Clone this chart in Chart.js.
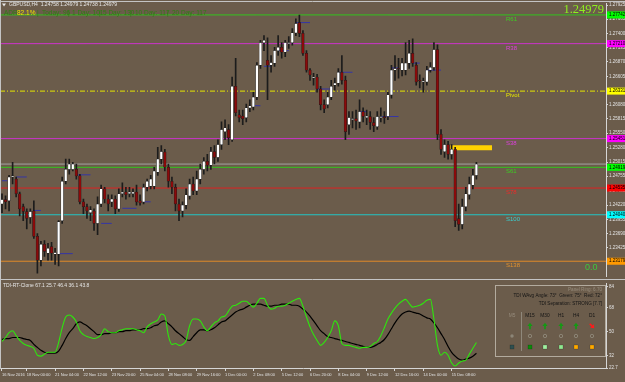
<!DOCTYPE html>
<html>
<head>
<meta charset="utf-8">
<script src="https://cdn.jsdelivr.net/npm/chart.js@4.4.0/dist/chart.umd.min.js"></script>
<style>
html, body { margin: 0; padding: 0; background: #6b5c4b; }
#wrap { width: 625px; height: 382px; position: relative; overflow: hidden; background: #6b5c4b; }
#main { position: absolute; left: 0; top: 0; }
#tdi { position: absolute; left: 0; top: 280px; }
</style>
</head>
<body>
<div id="wrap">
  <canvas id="main" width="625" height="280"></canvas>
  <canvas id="tdi" width="625" height="102"></canvas>
</div>
<script>
// GBPUSD H4 candles
const opens = [
  1.2424,1.2432,1.2430,1.2474,1.2470,1.2443,1.2419,1.2410,1.2399,1.2411,
  1.2364,1.2320,1.2349,1.2333,1.2345,1.2331,1.2331,1.2393,1.2466,1.2488,
  1.2488,1.2488,1.2476,1.2428,1.2419,1.2408,1.2411,1.2388,1.2424,1.2452,
  1.2433,1.2428,1.2433,1.2415,1.2443,1.2446,1.2443,1.2443,1.2446,1.2430,
  1.2428,1.2455,1.2457,1.2457,1.2483,1.2507,1.2520,1.2492,1.2466,1.2455,
  1.2424,1.2411,1.2422,1.2439,1.2461,1.2448,1.2470,1.2488,1.2503,1.2496,
  1.2521,1.2510,1.2534,1.2558,1.2562,
  1.2543,1.2642,1.2589,1.2587,1.2584,1.2602,1.2604,1.2622,1.2681,1.2723,
  1.2690,1.2681,1.2685,1.2708,1.2714,1.2705,1.2721,1.2723,1.2741,1.2760,
  1.2740,1.2703,1.2672,1.2657,1.2659,1.2637,1.2608,1.2608,1.2622,1.2644,
  1.2648,1.2668,1.2653,1.2571,1.2580,1.2582,1.2576,1.2595,1.2584,1.2586,
  1.2575,1.2567,1.2584,1.2586,1.2586,1.2626,1.2672,1.2675,1.2672,1.2672,
  1.2685,1.2703,1.2681,1.2653,1.2650,1.2650,1.2672,1.2677,1.2710,1.2553,
  1.2521,1.2534,1.2516,1.2525,1.2397,1.2386,1.2419,1.2441,1.2459,1.2477
];
const highs = [
  1.2443,1.2439,1.2477,1.2501,1.2474,1.2446,1.2424,1.2415,1.2415,1.2430,
  1.2369,1.2355,1.2356,1.2351,1.2353,1.2342,1.2393,1.2474,1.2507,1.2507,
  1.2501,1.2498,1.2479,1.2433,1.2424,1.2419,1.2415,1.2437,1.2459,1.2455,
  1.2441,1.2441,1.2439,1.2452,1.2463,1.2455,1.2455,1.2452,1.2459,1.2441,
  1.2461,1.2470,1.2477,1.2492,1.2529,1.2532,1.2525,1.2498,1.2474,1.2461,
  1.2433,1.2428,1.2452,1.2470,1.2474,1.2485,1.2498,1.2510,1.2516,1.2529,
  1.2532,1.2543,1.2576,1.2580,1.2571,
  1.2659,1.2694,1.2598,1.2598,1.2609,1.2617,1.2631,1.2686,1.2727,1.2736,
  1.2732,1.2699,1.2714,1.2736,1.2723,1.2727,1.2734,1.2749,1.2767,1.2774,
  1.2745,1.2708,1.2675,1.2666,1.2664,1.2642,1.2617,1.2631,1.2653,1.2657,
  1.2675,1.2699,1.2661,1.2595,1.2595,1.2598,1.2617,1.2602,1.2598,1.2595,
  1.2584,1.2595,1.2602,1.2595,1.2631,1.2681,1.2699,1.2694,1.2694,1.2723,
  1.2727,1.2730,1.2686,1.2663,1.2657,1.2679,1.2686,1.2723,1.2719,1.2562,
  1.2543,1.2540,1.2534,1.2529,1.2424,1.2433,1.2455,1.2474,1.2488,1.2501
];
const lows = [
  1.2408,1.2415,1.2411,1.2461,1.2437,1.2402,1.2393,1.2378,1.2388,1.2360,
  1.2296,1.2309,1.2327,1.2320,1.2320,1.2312,1.2309,1.2388,1.2461,1.2479,
  1.2485,1.2470,1.2424,1.2406,1.2397,1.2393,1.2375,1.2367,1.2419,1.2426,
  1.2411,1.2419,1.2406,1.2410,1.2437,1.2433,1.2437,1.2437,1.2422,1.2422,
  1.2424,1.2448,1.2452,1.2452,1.2477,1.2498,1.2485,1.2455,1.2443,1.2411,
  1.2393,1.2400,1.2415,1.2433,1.2441,1.2441,1.2461,1.2479,1.2485,1.2488,
  1.2498,1.2503,1.2525,1.2543,1.2534,
  1.2540,1.2587,1.2576,1.2571,1.2576,1.2595,1.2598,1.2617,1.2675,1.2708,
  1.2617,1.2668,1.2679,1.2699,1.2694,1.2697,1.2712,1.2718,1.2736,1.2734,
  1.2699,1.2668,1.2653,1.2644,1.2631,1.2598,1.2593,1.2602,1.2617,1.2635,
  1.2642,1.2646,1.2543,1.2553,1.2565,1.2562,1.2565,1.2576,1.2571,1.2562,
  1.2558,1.2562,1.2576,1.2573,1.2580,1.2620,1.2653,1.2657,1.2661,1.2663,
  1.2675,1.2679,1.2644,1.2639,1.2631,1.2644,1.2668,1.2672,1.2543,1.2516,
  1.2510,1.2507,1.2507,1.2382,1.2375,1.2378,1.2411,1.2433,1.2452,1.2470
];
const closes = [
  1.2432,1.2428,1.2474,1.2476,1.2443,1.2415,1.2410,1.2397,1.2410,1.2364,
  1.2320,1.2349,1.2336,1.2342,1.2333,1.2334,1.2391,1.2466,1.2488,1.2498,
  1.2498,1.2476,1.2428,1.2419,1.2411,1.2413,1.2388,1.2424,1.2452,1.2433,
  1.2424,1.2433,1.2415,1.2443,1.2446,1.2441,1.2446,1.2446,1.2428,1.2426,
  1.2455,1.2466,1.2470,1.2485,1.2507,1.2521,1.2492,1.2466,1.2455,1.2424,
  1.2411,1.2422,1.2441,1.2461,1.2448,1.2470,1.2488,1.2503,1.2496,1.2521,
  1.2510,1.2534,1.2562,1.2565,1.2547,
  1.2642,1.2593,1.2584,1.2582,1.2602,1.2606,1.2622,1.2681,1.2723,1.2727,
  1.2681,1.2686,1.2708,1.2714,1.2705,1.2723,1.2723,1.2741,1.2758,1.2740,
  1.2703,1.2672,1.2663,1.2659,1.2637,1.2608,1.2600,1.2622,1.2642,1.2648,
  1.2668,1.2653,1.2558,1.2584,1.2582,1.2578,1.2595,1.2586,1.2587,1.2575,
  1.2569,1.2586,1.2586,1.2584,1.2626,1.2672,1.2675,1.2674,1.2685,1.2685,
  1.2703,1.2685,1.2650,1.2652,1.2652,1.2672,1.2677,1.2710,1.2553,1.2525,
  1.2534,1.2516,1.2525,1.2393,1.2386,1.2419,1.2443,1.2461,1.2477,1.2498
];

// TDI sub window
const tdiGreen = [
  42.6,45.6,49.2,50.7,47.0,43.4,41.1,39.7,38.9,37.5,
  32.3,31.6,33.1,34.5,34.5,34.5,41.9,52.9,61.0,62.5,
  61.0,57.3,50.7,47.8,46.3,45.6,44.8,45.6,47.8,52.2,
  50.0,49.2,49.2,50.7,51.4,52.2,52.2,52.2,51.4,50.7,
  49.2,53.6,55.9,57.3,58.8,63.2,61.7,47.0,40.4,41.1,
  39.7,40.4,43.4,54.4,59.5,59.5,58.1,53.6,50.7,53.6,
  56.6,58.1,61.0,61.7,65.4,69.1,69.8,71.3,72.8,72.8,
  70.6,68.4,71.3,75.0,75.0,69.8,66.9,67.6,69.1,69.1,
  69.8,71.3,72.8,74.2,75.0,69.1,61.0,53.6,47.8,43.4,
  39.7,41.9,45.6,50.7,58.1,54.4,41.1,39.7,39.7,38.9,
  38.2,37.5,38.2,38.2,38.9,41.1,42.6,47.0,52.9,59.5,
  63.9,67.6,70.6,72.8,74.2,71.3,68.4,69.1,69.8,71.3,
  73.5,74.2,59.5,39.7,32.3,34.5,32.3,26.4,24.2,26.4,
  27.9,28.6,33.1,37.5,41.9
];
const tdiBlack = [
  44.1,44.8,44.8,45.6,45.6,45.6,44.8,44.1,43.4,40.4,
  38.2,36.0,34.5,33.8,33.8,33.8,35.3,39.7,44.8,49.2,
  52.2,55.9,57.3,55.9,54.4,52.2,50.0,47.8,47.8,48.5,
  48.5,49.2,49.2,50.0,50.0,50.7,50.7,51.4,51.4,51.4,
  52.2,52.2,52.9,54.4,55.1,57.3,58.1,55.9,53.6,50.7,
  48.5,46.3,44.1,43.4,46.3,49.2,51.4,51.4,50.7,51.4,
  52.9,55.1,57.3,58.1,60.3,62.5,64.7,66.1,66.9,68.4,
  69.8,70.6,70.6,70.6,69.8,69.1,69.1,69.8,69.8,70.6,
  70.6,70.6,69.8,69.8,69.1,66.9,64.7,61.7,58.1,54.4,
  50.7,48.5,46.3,45.6,44.8,44.1,43.4,42.6,41.9,41.1,
  40.4,39.7,38.9,38.2,38.2,38.9,40.4,41.9,44.1,47.8,
  52.2,56.6,60.3,63.2,64.7,65.4,64.7,63.9,63.2,61.7,
  60.3,59.5,56.6,52.9,48.5,44.1,38.9,34.5,31.6,29.4,
  28.6,29.4,30.1,31.6,33.8
];

// pivot levels
const levelNames  = ['R61', 'R38', 'Pivot', 'S38', 'S61', 'S78', 'S100', 'S138'];
const levelPrices = [1.27742, 1.27210, 1.26331, 1.25451, 1.24919, 1.24535, 1.24040, 1.23179];
const levelLineColors = ['#33c41e', '#cc33cc', '#e6e600', '#cc33cc', '#33c41e', '#dd2020', '#22c4c4', '#e08a28'];
const levelTextColors = ['#3ccf22', '#dd40dd', '#e8e800', '#dd40dd', '#3ccf22', '#ee2a2a', '#3ad0d0', '#e3922e'];
const levelTagColors  = ['#00ff00', '#ff00ff', '#ffff00', '#ff00ff', '#00ff00', '#ff0000', '#00ffff', '#ff9900'];
const bidPrice = 1.24979;

// short blue marks
const markStart = [0, 4, 9, 16, 21, 28, 34, 40, 71, 74, 78, 83, 89, 95, 101, 107, 110, 116, 120];
const markEnd   = [1.5, 7, 11, 20, 25, 31, 38, 42, 73, 76, 81, 87, 93, 99, 103, 112, 112, 118, 124];
const markPrice = [1.2467, 1.2474, 1.2412, 1.2332, 1.2478, 1.2388, 1.2416, 1.2428, 1.2606, 1.2679,
                   1.2708, 1.2760, 1.2637, 1.2668, 1.2595, 1.2586, 1.2676, 1.2685, 1.2672];

const yellowBarX = [126.6, 138.4];
const yellowBarPrice = 1.2528;

const priceTicks = [1.23160, 1.23425, 1.23690, 1.23955, 1.24220, 1.24485, 1.24755, 1.25015, 1.25280, 1.25550,
                    1.25815, 1.26080, 1.26335, 1.26605, 1.26870, 1.27135, 1.27400, 1.27665, 1.27925];
const tdiTicks = [22.7, 32, 50, 68, 84];
const timeTickIdx = [0, 7, 15, 23, 31, 39, 47, 55, 63, 71, 79, 87, 95, 103, 111, 119, 127];
const timeTickText = ['16 Nov 2016', '18 Nov 00:00', '21 Nov 04:00', '22 Nov 12:00', '23 Nov 20:00', '25 Nov 04:00',
                      '28 Nov 08:00', '29 Nov 16:00', '1 Dec 00:00', '2 Dec 08:00', '5 Dec 12:00', '6 Dec 20:00',
                      '8 Dec 04:00', '9 Dec 12:00', '12 Dec 16:00', '14 Dec 00:00', '15 Dec 08:00'];

const panelCols = ['M5', 'M15', 'M30', 'H1', 'H4', 'D1'];
const panelSquares = ['#2f4f4f', '#0a8a0a', '#a0f0a0', '#90e890', '#ffaa00', '#ffaa00'];

const X_MIN = -0.56, X_MAX = 170.6;
const FONT = '"Liberation Sans", Arial, sans-serif';
const AXIS = '#d6d6d6';

Chart.defaults.font.family = FONT;

const levelSets = levelPrices.map((p, k) => ({
  type: 'line',
  data: [{x: X_MIN, y: p}, {x: X_MAX, y: p}],
  borderColor: levelLineColors[k],
  borderWidth: 1,
  borderDash: levelNames[k] === 'Pivot' ? [5, 2, 1, 2] : [],
  pointRadius: 0,
  order: 6
}));

const markSets = markStart.map((s, k) => ({
  type: 'line',
  data: [{x: s, y: markPrice[k]}, {x: markEnd[k], y: markPrice[k]}],
  borderColor: '#3535a5',
  borderWidth: 1,
  pointRadius: 0,
  order: 3
}));

const mainOverlay = {
  id: 'mainOverlay',
  afterDraw(chart) {
    const {ctx, chartArea: a, scales: {y}} = chart;
    ctx.save();
    ctx.strokeStyle = '#c4c4c4';
    ctx.lineWidth = 1;
    ctx.beginPath();
    ctx.moveTo(0, 1.5); ctx.lineTo(625, 1.5);
    ctx.moveTo(0.5, 0); ctx.lineTo(0.5, 280);
    ctx.moveTo(0, 279.5); ctx.lineTo(625, 279.5);
    ctx.stroke();

    // level names
    ctx.font = '6px ' + FONT;
    ctx.textBaseline = 'top';
    ctx.textAlign = 'left';
    levelNames.forEach((n, k) => {
      ctx.fillStyle = levelTextColors[k];
      ctx.fillText(n, 506, y.getPixelForValue(levelPrices[k]) + 1.5);
    });

    // price tags on the axis
    ctx.font = '4.5px ' + FONT;
    ctx.textBaseline = 'middle';
    levelPrices.forEach((p, k) => {
      const py = y.getPixelForValue(p);
      ctx.fillStyle = levelTagColors[k];
      ctx.fillRect(a.right + 1, py - 3.5, 19, 7);
      ctx.fillStyle = '#000';
      ctx.fillText(p.toFixed(5), a.right + 3, py);
    });

    // header
    ctx.fillStyle = '#e8e8e8';
    ctx.beginPath();
    ctx.moveTo(2, 3.5); ctx.lineTo(6, 3.5); ctx.lineTo(4, 6.5); ctx.closePath(); ctx.fill();
    ctx.font = '5px ' + FONT;
    ctx.fillText('GBPUSD,H4  1.24758 1.24979 1.24738 1.24979', 9, 5);

    ctx.font = '6.5px ' + FONT;
    const g = '#2e7d12';
    const adr = [['ADR:', 4, g], ['82.1%', 17, '#f0e000'], ['|', 37, g], ['Today: 96', 42, g],
                 ['|', 68, g], ['1 Day: 101', 72, g], ['|', 99, g], ['5 Day: 130', 103, g],
                 ['|', 130, g], ['10 Day: 117', 135, g], ['|', 167, g], ['20 Day: 117', 172, g]];
    adr.forEach(([t, x, c]) => { ctx.fillStyle = c; ctx.fillText(t, x, 13.5); });

    // current price
    ctx.font = '12.5px "Liberation Serif", serif';
    ctx.textAlign = 'right';
    ctx.textBaseline = 'alphabetic';
    ctx.fillStyle = '#8ef01e';
    ctx.fillText(bidPrice.toFixed(5), 604, 13);

    ctx.font = '9px ' + FONT;
    ctx.fillStyle = '#3ec83e';
    ctx.textAlign = 'left';
    ctx.fillText('0.0', 585, 269.5);
    ctx.restore();
  }
};

new Chart('main', {
  type: 'bar',
  data: {
    datasets: [
      {
        label: 'bodies',
        data: opens.map((o, i) => ({x: i, y: [o, closes[i]]})),
        backgroundColor: ctx => closes[ctx.dataIndex] >= opens[ctx.dataIndex] ? '#ffffff' : '#8b0a0a',
        borderColor: '#1e1e1e',
        borderWidth: 0.5,
        borderSkipped: false,
        barThickness: 2.6,
        grouped: false,
        order: 0
      },
      {
        label: 'wicks',
        data: highs.map((h, i) => ({x: i, y: [lows[i], h]})),
        backgroundColor: '#1c1c1c',
        barThickness: 1,
        grouped: false,
        order: 1
      },
      {
        type: 'line',
        data: [{x: yellowBarX[0], y: yellowBarPrice}, {x: yellowBarX[1], y: yellowBarPrice}],
        borderColor: '#ffd200',
        borderWidth: 5,
        pointRadius: 0,
        order: 2
      },
      ...markSets,
      {
        type: 'line',
        data: [{x: X_MIN, y: bidPrice}, {x: X_MAX, y: bidPrice}],
        borderColor: '#a4a4a4',
        borderWidth: 1,
        pointRadius: 0,
        order: 5
      },
      ...levelSets
    ]
  },
  options: {
    responsive: false,
    animation: false,
    layout: {padding: {top: 3, bottom: 2, left: 0, right: 0}},
    plugins: {legend: {display: false}, tooltip: {enabled: false}},
    scales: {
      x: {type: 'linear', min: X_MIN, max: X_MAX, offset: false, display: false},
      y: {
        position: 'right',
        min: 1.2290,
        max: 1.2795,
        afterFit: s => { s.width = 19; },
        afterBuildTicks: s => { s.ticks = priceTicks.map(v => ({value: v})); },
        ticks: {font: {size: 4.5}, color: '#e2e2e2', padding: 1, callback: v => v.toFixed(5)},
        grid: {drawOnChartArea: false, tickLength: 2, color: AXIS},
        border: {color: AXIS}
      }
    }
  },
  plugins: [mainOverlay]
});

function upArrow(ctx, x, y, color) {
  ctx.fillStyle = color;
  ctx.beginPath();
  ctx.moveTo(x - 2.6, y); ctx.lineTo(x, y - 3.2); ctx.lineTo(x + 2.6, y); ctx.closePath(); ctx.fill();
  ctx.fillRect(x - 0.8, y - 0.2, 1.6, 3.4);
}

const panelOverlay = {
  id: 'panelOverlay',
  afterDraw(chart) {
    const ctx = chart.ctx;
    ctx.save();
    ctx.strokeStyle = '#c4c4c4';
    ctx.lineWidth = 1;
    ctx.beginPath(); ctx.moveTo(0.5, 0); ctx.lineTo(0.5, 89); ctx.stroke();

    ctx.font = '5px ' + FONT;
    ctx.fillStyle = '#e6e6e6';
    ctx.textBaseline = 'middle';
    ctx.fillText('TDI-RT-Clone 67.1 25.7 46.4 36.1 43.8', 3, 6);

    // dashboard box
    ctx.strokeStyle = '#b3ab9e';
    ctx.strokeRect(495.5, 5.5, 110, 71);
    ctx.textAlign = 'right';
    ctx.font = '4.6px ' + FONT;
    ctx.fillStyle = '#968c7c';
    ctx.fillText('Panel Ring: 6.70', 602, 10);
    ctx.fillStyle = '#141414';
    ctx.fillText('TDI WAvg Angle: 73°  Green: 75°  Red: 72°', 602, 16);
    ctx.fillText('TDI Separation: STRONG [7.7]', 602, 24);

    const cx = [512, 530, 545, 561, 576, 592];
    ctx.textAlign = 'center';
    ctx.font = '4.8px ' + FONT;
    panelCols.forEach((c, k) => {
      ctx.fillStyle = k === 0 ? '#948a7a' : '#141414';
      ctx.fillText(c, cx[k], 36);
    });
    ctx.strokeStyle = '#8f887b';
    ctx.beginPath(); ctx.moveTo(521.5, 32); ctx.lineTo(521.5, 71); ctx.stroke();

    for (let k = 1; k < 5; k++) upArrow(ctx, cx[k], 46, '#139a13');
    ctx.save();
    ctx.translate(cx[5], 46);
    ctx.rotate(Math.PI * 0.75);
    upArrow(ctx, 0, 0, '#ff1a1a');
    ctx.restore();

    ctx.strokeStyle = '#8c8577';
    ctx.fillStyle = '#8c8577';
    cx.forEach((x, k) => {
      ctx.beginPath();
      ctx.arc(x, 56, 1.7, 0, Math.PI * 2);
      if (k === 0) ctx.fill(); else ctx.stroke();
    });

    cx.forEach((x, k) => {
      ctx.fillStyle = panelSquares[k];
      ctx.fillRect(x - 2, 65, 4, 4);
      ctx.strokeStyle = 'rgba(0,0,0,0.35)';
      ctx.lineWidth = 0.5;
      ctx.strokeRect(x - 2, 65, 4, 4);
    });
    ctx.restore();
  }
};

new Chart('tdi', {
  type: 'line',
  data: {
    datasets: [
      {
        data: tdiGreen.map((v, i) => ({x: i, y: v})),
        borderColor: '#2ee60e',
        borderWidth: 1.1,
        pointRadius: 0,
        cubicInterpolationMode: 'monotone',
        order: 1
      },
      {
        data: tdiBlack.map((v, i) => ({x: i, y: v})),
        borderColor: '#000000',
        borderWidth: 1.2,
        pointRadius: 0,
        cubicInterpolationMode: 'monotone',
        order: 2
      }
    ]
  },
  options: {
    responsive: false,
    animation: false,
    layout: {padding: {top: 2, bottom: 0, left: 0, right: 0}},
    plugins: {legend: {display: false}, tooltip: {enabled: false}},
    scales: {
      x: {
        type: 'linear', min: X_MIN, max: X_MAX, offset: false,
        afterFit: s => { s.height = 14; },
        afterBuildTicks: s => { s.ticks = timeTickIdx.map(v => ({value: v})); },
        ticks: {
          align: 'start', autoSkip: false, maxRotation: 0, minRotation: 0,
          font: {size: 4}, color: '#e2e2e2', padding: 1,
          callback: v => timeTickText[timeTickIdx.indexOf(v)]
        },
        grid: {drawOnChartArea: false, tickLength: 3, color: AXIS},
        border: {color: AXIS}
      },
      y: {
        position: 'right',
        min: 22.7,
        max: 86,
        afterFit: s => { s.width = 19; },
        afterBuildTicks: s => { s.ticks = tdiTicks.map(v => ({value: v})); },
        ticks: {font: {size: 4.5}, color: '#e2e2e2', padding: 1, callback: v => String(v)},
        grid: {drawOnChartArea: false, tickLength: 2, color: AXIS},
        border: {color: AXIS}
      }
    }
  },
  plugins: [panelOverlay]
});
</script>
</body>
</html>
